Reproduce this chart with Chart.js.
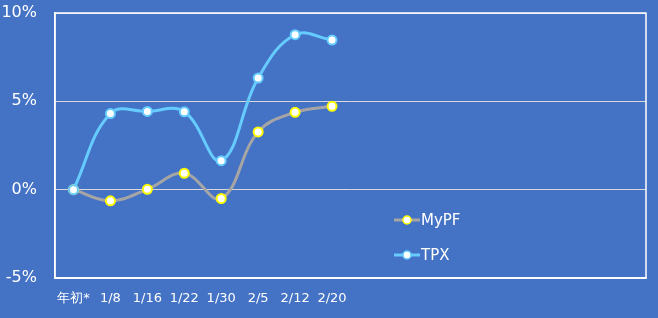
<!DOCTYPE html>
<html>
<head>
<meta charset="utf-8">
<script src="https://cdn.jsdelivr.net/npm/chart.js@4"></script>
<style>
  html, body { margin: 0; padding: 0; background: #4472C4; }
  #wrap { width: 658px; height: 318px; }
</style>
</head>
<body>
<div id="wrap"><canvas id="chart" width="658" height="318"></canvas></div>
<script>
'use strict'
const labels = ['年初*', '1/8', '1/16', '1/22', '1/30', '2/5', '2/12', '2/20', '', '', '', '', '', '', '', '']
const myPF = [0, -0.63, 0.02, 0.93, -0.5, 3.27, 4.38, 4.72]
const tpx = [0, 4.31, 4.43, 4.41, 1.64, 6.32, 8.77, 8.47]
const yTicks = [-5, 0, 5, 10]

const FONT = 'DejaVu Sans'

// box round the plot + legend inside the plot
const framePlugin = {
  id: 'frame',
  beforeDatasetsDraw(chart) {
    const { ctx, chartArea: a } = chart
    ctx.save()
    ctx.strokeStyle = '#ffffff'
    ctx.lineWidth = 1.5
    ctx.strokeRect(a.left, a.top, a.right - a.left, a.bottom - a.top)
    ctx.restore()
  },
  afterDraw(chart) {
    const { ctx } = chart
    const items = [0, 1]
    const ys = [220, 255]
    ctx.save()
    items.forEach((i, k) => {
      const ds = chart.data.datasets[i]
      const y = ys[k]
      ctx.strokeStyle = ds.borderColor
      ctx.lineWidth = 3
      ctx.beginPath()
      ctx.moveTo(394, y)
      ctx.lineTo(420, y)
      ctx.stroke()
      ctx.beginPath()
      ctx.arc(407, y, 4, 0, Math.PI * 2)
      ctx.fillStyle = ds.pointBackgroundColor
      ctx.fill()
      ctx.lineWidth = 1.5
      ctx.strokeStyle = ds.pointBorderColor
      ctx.stroke()
      ctx.fillStyle = '#ffffff'
      ctx.font = '15px "' + FONT + '"'
      ctx.textBaseline = 'middle'
      ctx.fillText(ds.label, 421, y + 1)
    })
    ctx.restore()
  },
}

const chart = new Chart(document.getElementById('chart').getContext('2d'), {
  type: 'line',
  data: {
    labels: labels,
    datasets: [
      {
        label: 'MyPF',
        data: myPF,
        borderColor: '#A5A5A5',
        borderWidth: 3,
        tension: 0.4,
        pointRadius: 4.5,
        pointBorderWidth: 2,
        pointBackgroundColor: '#ffffff',
        pointBorderColor: '#FFFF00',
        order: 1,
      },
      {
        label: 'TPX',
        data: tpx,
        borderColor: '#66CCFF',
        borderWidth: 3,
        tension: 0.4,
        pointRadius: 4.5,
        pointBorderWidth: 2,
        pointBackgroundColor: '#ffffff',
        pointBorderColor: '#66CCFF',
        order: 0,
      },
    ],
  },
  options: {
    responsive: false,
    animation: false,
    layout: { padding: { top: 13, right: 12, left: 0, bottom: 0 } },
    plugins: { legend: { display: false }, tooltip: { enabled: false } },
    scales: {
      x: {
        offset: true,
        grid: { display: false, drawTicks: false },
        border: { display: true, color: '#ffffff', width: 1.5 },
        ticks: {
          color: '#ffffff',
          font: { family: FONT, size: 13 },
          maxRotation: 0,
          autoSkip: false,
          padding: 13,
        },
        afterFit(scale) { scale.height = 40 },
      },
      y: {
        min: -5,
        max: 10,
        afterBuildTicks(scale) { scale.ticks = yTicks.map((v) => ({ value: v })) },
        grid: { color: '#D9D9D9', lineWidth: 1, drawTicks: false },
        border: { display: true, color: '#ffffff', width: 1.5 },
        ticks: {
          color: '#ffffff',
          font: { family: FONT, size: 16 },
          padding: 18,
          callback: (v) => v + '%',
        },
        afterFit(scale) {
          scale.width = 55
          scale.paddingTop = 0
          scale.paddingBottom = 0
        },
      },
    },
  },
  plugins: [framePlugin],
})
</script>
</body>
</html>
